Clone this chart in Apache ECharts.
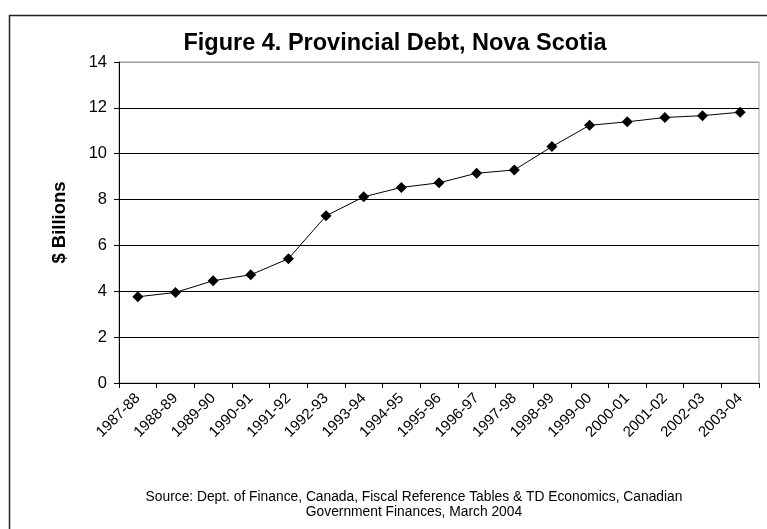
<!DOCTYPE html>
<html>
<head>
<meta charset="utf-8">
<script src="https://cdn.jsdelivr.net/npm/echarts@6/dist/echarts.min.js"></script>
<style>
  html, body { margin: 0; padding: 0; background: #fff; }
  #chart { width: 767px; height: 529px; }
</style>
</head>
<body>
<div id="chart"></div>
<script>
// Fiscal years on the category axis
const fiscalYears = ['1987-88','1988-89','1989-90','1990-91','1991-92','1992-93','1993-94','1994-95',
  '1995-96','1996-97','1997-98','1998-99','1999-00','2000-01','2001-02','2002-03','2003-04'];
// Provincial debt, $ billions
const debtBillions = [3.76, 3.95, 4.46, 4.72, 5.42, 7.29, 8.12, 8.53, 8.73, 9.15, 9.29, 10.31,
  11.24, 11.39, 11.58, 11.66, 11.81];
// Value axis range
const yMin = 0, yMax = 14, yStep = 2;

const titleText = 'Figure 4. Provincial Debt, Nova Scotia';
const yAxisTitle = '$ Billions';
const sourceLines = [
  'Source: Dept. of Finance, Canada, Fiscal Reference Tables & TD Economics, Canadian',
  'Government Finances, March 2004'
];

const font = '"Liberation Sans", Arial, sans-serif';
const chart = echarts.init(document.getElementById('chart'), null, { renderer: 'canvas' });

// gridline colours: dark inside the plot, light grey at the top edge
const gridColors = [];
for (let v = yMin; v <= yMax; v += yStep) gridColors.push(v === yMax ? '#a0a0a0' : '#000');

chart.setOption({
  animation: false,
  backgroundColor: '#fff',
  graphic: [
    {
      type: 'rect', left: 7, top: 13, z: 0,
      shape: { width: 900, height: 700 },
      style: { fill: 'none', stroke: '#222', lineWidth: 1.5 }
    },
    {
      type: 'text', x: 395, y: 44, z: 10,
      style: {
        text: titleText, font: 'bold 23.5px ' + font, fill: '#000',
        align: 'center', verticalAlign: 'middle'
      }
    },
    {
      type: 'text', x: 414, y: 505, z: 10,
      style: {
        text: sourceLines.join('\n'), font: '13.8px ' + font, fill: '#000',
        align: 'center', verticalAlign: 'middle', lineHeight: 15
      }
    }
  ],
  grid: {
    left: 119, right: 8, top: 62, bottom: 146,
    show: true, borderColor: '#a0a0a0', borderWidth: 1, backgroundColor: 'transparent'
  },
  xAxis: {
    type: 'category',
    data: fiscalYears,
    boundaryGap: true,
    axisLine: { lineStyle: { color: '#000', width: 1 } },
    axisTick: { show: true, length: 5, lineStyle: { color: '#000' } },
    axisLabel: {
      rotate: 45, interval: 0, margin: 13,
      color: '#000', fontFamily: font, fontSize: 15
    },
    splitLine: { show: false }
  },
  yAxis: {
    type: 'value',
    min: yMin, max: yMax, interval: yStep,
    name: yAxisTitle,
    nameLocation: 'middle',
    nameGap: 50,
    nameTextStyle: { fontFamily: font, fontWeight: 'bold', fontSize: 18.5, color: '#000' },
    axisLine: { show: true, lineStyle: { color: '#000', width: 1 } },
    axisTick: { show: true, length: 5, lineStyle: { color: '#000' } },
    axisLabel: { color: '#000', fontFamily: font, fontSize: 16.5, margin: 12 },
    splitLine: { show: true, lineStyle: { color: gridColors, width: 1 } }
  },
  series: [{
    type: 'line',
    data: debtBillions,
    symbol: 'diamond',
    symbolSize: 11,
    itemStyle: { color: '#000' },
    lineStyle: { color: '#000', width: 1 },
    z: 5
  }]
});
</script>
</body>
</html>
